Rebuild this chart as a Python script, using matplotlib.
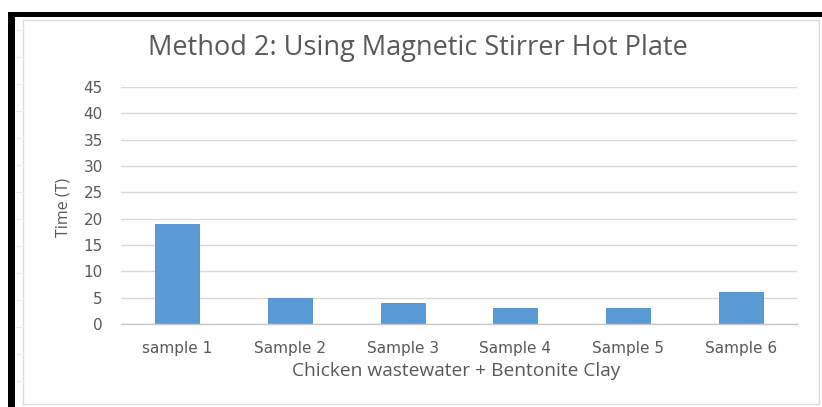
import matplotlib
matplotlib.use("Agg")
import matplotlib.pyplot as plt
from matplotlib.patches import Rectangle
from matplotlib.lines import Line2D

categories = ["sample 1", "Sample 2", "Sample 3", "Sample 4", "Sample 5", "Sample 6"]
times = [19, 5, 4, 3, 3, 6]
y_ticks = [0, 5, 10, 15, 20, 25, 30, 35, 40, 45]

W, H = 822, 407
fig = plt.figure(figsize=(W / 100, H / 100), dpi=100)
fig.patch.set_facecolor("white")

def fx(px):
    return px / W

def fy(py):
    return 1 - py / H

text_gray = "#595959"
grid_gray = "#d9d9d9"

# Black frame (top and left) and faint inner chart border
fig.add_artist(Rectangle((fx(8), fy(17)), fx(822) - fx(8), fy(12) - fy(17),
                         transform=fig.transFigure, color="black", lw=0))
fig.add_artist(Rectangle((fx(8), fy(407)), fx(15) - fx(8), fy(12) - fy(407),
                         transform=fig.transFigure, color="black", lw=0))
fig.add_artist(Rectangle((fx(23), fy(404)), fx(819) - fx(23), fy(20) - fy(404),
                         transform=fig.transFigure, fill=False,
                         edgecolor="#dcdcdc", lw=1.0))
# faint ruler ticks along the left edge of the frame
for py in range(30, 400, 27):
    fig.add_artist(Line2D([fx(15), fx(23)], [fy(py), fy(py)],
                          transform=fig.transFigure, color="#ececec", lw=0.8))

ax = fig.add_axes([fx(121), fy(324), fx(797) - fx(121), fy(87) - fy(324)])
x = range(len(categories))
ax.bar(x, times, width=0.39, color="#5b9bd5", edgecolor="#4a8ccb", linewidth=0.6, zorder=3)

ax.set_xlim(-0.5, len(categories) - 0.5)
ax.set_ylim(0, 45)
ax.set_yticks(y_ticks)
ax.set_xticks(list(x))
ax.set_xticklabels(categories)
ax.yaxis.grid(True, color=grid_gray, lw=1.0, zorder=0)
ax.set_axisbelow(True)
for s in ["top", "right", "left"]:
    ax.spines[s].set_visible(False)
ax.spines["bottom"].set_color("#c8c8c8")
ax.spines["bottom"].set_linewidth(1.0)
ax.spines["bottom"].set_zorder(4)
ax.tick_params(axis="both", length=0, colors=text_gray, labelsize=11)
ax.tick_params(axis="y", pad=13)
ax.tick_params(axis="x", pad=12)
for lab in ax.get_xticklabels() + ax.get_yticklabels():
    lab.set_fontfamily("DejaVu Sans")
    lab.set_color(text_gray)

fig.text(fx(418), fy(48), "Method 2: Using Magnetic Stirrer Hot Plate",
         ha="center", va="center", fontsize=19.5, color=text_gray, family="Open Sans")
fig.text(fx(456), fy(371), "Chicken wastewater + Bentonite Clay",
         ha="center", va="center", fontsize=13.8, color=text_gray, family="Open Sans")
fig.text(fx(63), fy(207), "Time (T)", ha="center", va="center", rotation=90,
         fontsize=11.5, color=text_gray, family="Open Sans")

fig.savefig("out.png", dpi=100, facecolor="white")
